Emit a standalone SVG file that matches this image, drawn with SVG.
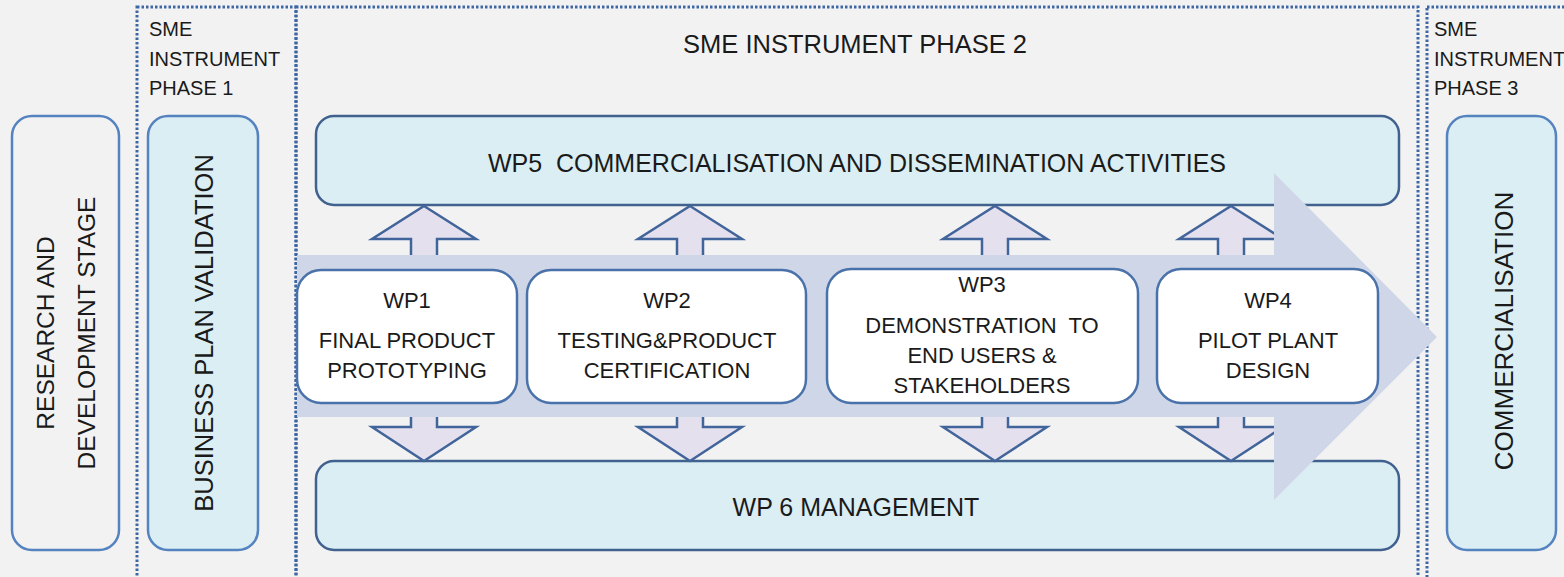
<svg xmlns="http://www.w3.org/2000/svg" width="1564" height="577" viewBox="0 0 1564 577">
<style>
text{font-family:"Liberation Sans",Arial,sans-serif;fill:#1a1a1a}
.phase{fill:none;stroke:#3e66a3;stroke-width:3;stroke-dasharray:2.5 2}
.side{stroke:#5583c0;stroke-width:2.5}
.blue{fill:#daeef3}
.grey{fill:#f2f2f2}
.wide{fill:#daeef3;stroke:#41628f;stroke-width:2.5}
.wp{fill:#ffffff;stroke:#4a72aa;stroke-width:2.5}
.conn{fill:#e5e0ee;stroke:#41649a;stroke-width:2.5;stroke-linejoin:miter}
.flow{fill:#cfd6e8}
.lbl{font-size:20px}
.wpt{font-size:22px;text-anchor:middle}
.big{font-size:25px;text-anchor:middle}
.vert{font-size:24.5px;text-anchor:middle}
</style>
<rect x="0" y="0" width="1564" height="577" fill="#f2f2f2"/>

<g id="phase1">
<rect class="phase" x="137" y="7" width="159" height="600"/>
<text class="lbl" x="149" y="36">SME</text>
<text class="lbl" x="149" y="66">INSTRUMENT</text>
<text class="lbl" x="149" y="95">PHASE 1</text>
</g>
<g id="phase2">
<rect class="phase" x="296" y="7" width="1122" height="600"/>
<text x="855" y="53" style="font-size:25.5px;text-anchor:middle">SME INSTRUMENT PHASE 2</text>
</g>
<g id="phase3">
<rect class="phase" x="1427" y="7" width="160" height="600"/>
<text class="lbl" x="1434" y="36">SME</text>
<text class="lbl" x="1434" y="66">INSTRUMENT</text>
<text class="lbl" x="1434" y="95">PHASE 3</text>
</g>

<g id="research">
<rect class="side grey" x="12" y="116" width="107" height="434" rx="20"/>
<text class="vert" transform="translate(54,333) rotate(-90)">RESEARCH AND</text>
<text class="vert" transform="translate(95,333) rotate(-90)">DEVELOPMENT STAGE</text>
</g>
<g id="business-plan">
<rect class="side blue" x="148" y="116" width="110" height="434" rx="20"/>
<text transform="translate(213,333) rotate(-90)" style="font-size:25.5px;text-anchor:middle">BUSINESS PLAN VALIDATION</text>
</g>
<g id="commercialisation">
<rect class="side blue" x="1447" y="116" width="109" height="434" rx="20"/>
<text transform="translate(1513,331) rotate(-90)" style="font-size:26px;text-anchor:middle">COMMERCIALISATION</text>
</g>

<g id="wp5">
<rect class="wide" x="316" y="116" width="1083" height="89" rx="18"/>
<text class="big" x="857" y="172">WP5&#160; COMMERCIALISATION AND DISSEMINATION ACTIVITIES</text>
</g>
<g id="wp6">
<rect class="wide" x="316" y="461" width="1083" height="89" rx="18"/>
<text class="big" x="856" y="516">WP 6 MANAGEMENT</text>
</g>

<g id="connectors">
<path class="conn" d="M424,206 L476,239 L437,239 L437,258 L411,258 L411,239 L372,239 Z"/>
<path class="conn" d="M690,206 L742,239 L703,239 L703,258 L677,258 L677,239 L638,239 Z"/>
<path class="conn" d="M995,206 L1047,239 L1008,239 L1008,258 L982,258 L982,239 L943,239 Z"/>
<path class="conn" d="M1231,206 L1283,239 L1244,239 L1244,258 L1218,258 L1218,239 L1179,239 Z"/>
<path class="conn" d="M424,461 L476,427 L437,427 L437,414 L411,414 L411,427 L372,427 Z"/>
<path class="conn" d="M690,461 L742,427 L703,427 L703,414 L677,414 L677,427 L638,427 Z"/>
<path class="conn" d="M995,461 L1047,427 L1008,427 L1008,414 L982,414 L982,427 L943,427 Z"/>
<path class="conn" d="M1231,461 L1283,427 L1244,427 L1244,414 L1218,414 L1218,427 L1179,427 Z"/>
</g>

<g id="flow-arrow">
<path class="flow" d="M297,255 L1274,255 L1274,173 L1437,337 L1274,500 L1274,417 L297,417 Z"/>
</g>

<g id="wp1">
<rect class="wp" x="297" y="270" width="220" height="133" rx="24"/>
<text class="wpt" x="407" y="308">WP1</text>
<text class="wpt" x="407" y="348">FINAL PRODUCT</text>
<text class="wpt" x="407" y="378">PROTOTYPING</text>
</g>
<g id="wp2">
<rect class="wp" x="527" y="270" width="279" height="133" rx="24"/>
<text class="wpt" x="667" y="308">WP2</text>
<text class="wpt" x="667" y="348">TESTING&amp;PRODUCT</text>
<text class="wpt" x="667" y="378">CERTIFICATION</text>
</g>
<g id="wp3">
<rect class="wp" x="827" y="269" width="311" height="134" rx="24"/>
<text class="wpt" x="982" y="292">WP3</text>
<text class="wpt" x="982" y="333">DEMONSTRATION&#160; TO</text>
<text class="wpt" x="982" y="363">END USERS &amp;</text>
<text class="wpt" x="982" y="393">STAKEHOLDERS</text>
</g>
<g id="wp4">
<rect class="wp" x="1157" y="269" width="221" height="134" rx="24"/>
<text class="wpt" x="1268" y="308">WP4</text>
<text class="wpt" x="1268" y="348">PILOT PLANT</text>
<text class="wpt" x="1268" y="378">DESIGN</text>
</g>
</svg>
